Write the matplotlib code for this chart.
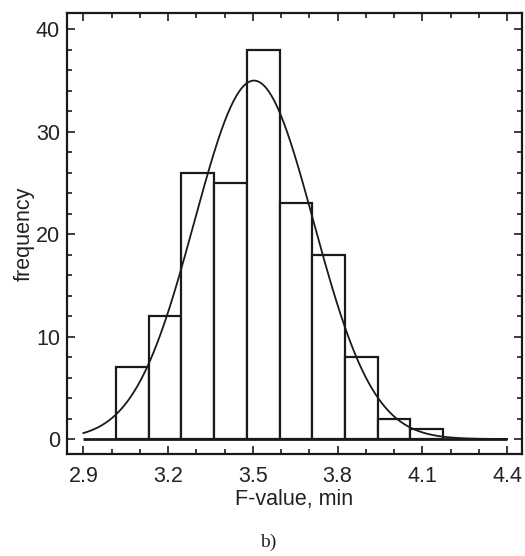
import matplotlib
matplotlib.use('Agg')
import matplotlib.pyplot as plt
import numpy as np
from matplotlib.ticker import MultipleLocator

# histogram (10 bins between min and max of sample)
bin_start = 3.016
bin_width = 0.1157
counts = [7, 12, 26, 25, 38, 23, 18, 8, 2, 1]

# normal fit parameters
mu = 3.504
sigma = 0.211
fit_range = (2.9, 4.4)

xticks = [2.9, 3.2, 3.5, 3.8, 4.1, 4.4]
yticks = [0, 10, 20, 30, 40]

plt.rcParams['font.family'] = ['Liberation Sans', 'DejaVu Sans']

fig = plt.figure(figsize=(5.25, 5.56), dpi=100)
ax = fig.add_axes([0.1276, 0.1835, 0.8667, 0.7931])

edges = bin_start + bin_width * np.arange(len(counts))
ax.bar(edges, counts, width=bin_width, align='edge', facecolor='white',
       edgecolor='#1a1a1a', linewidth=1.6, zorder=2)

# baseline
ax.plot(fit_range, [0, 0], color='#1a1a1a', lw=2.0, zorder=3, solid_capstyle='butt')

xs = np.linspace(fit_range[0], fit_range[1], 400)
n = sum(counts)
ys = n * bin_width / (sigma * np.sqrt(2 * np.pi)) * np.exp(-0.5 * ((xs - mu) / sigma) ** 2)
ax.plot(xs, ys, color='#1a1a1a', lw=1.3, zorder=4)

ax.set_xlim(2.842, 4.453)
ax.set_ylim(-1.46, 41.6)
ax.set_xticks(xticks)
ax.set_xticklabels([f'{t:.1f}' for t in xticks])
ax.set_yticks(yticks)
ax.xaxis.set_minor_locator(MultipleLocator(0.1))
ax.yaxis.set_minor_locator(MultipleLocator(2))
ax.tick_params(which='both', direction='in', top=True, right=True, width=1.2,
               color='#1a1a1a', labelsize=15.5, labelcolor='#222222')
ax.tick_params(which='major', length=6)
ax.tick_params(which='minor', length=3.5)
ax.tick_params(axis='x', pad=9)
ax.tick_params(axis='y', pad=5)

for s in ax.spines.values():
    s.set_linewidth(1.6)
    s.set_color('#1a1a1a')

ax.set_xlabel('F-value, min', fontsize=15.5, color='#222222', labelpad=1)
ax.set_ylabel('frequency', fontsize=15.5, color='#222222', labelpad=1)

fig.text(0.51, 0.024, 'b)', fontsize=14, family=['Liberation Serif'],
         ha='center', va='center', color='#222222')

fig.savefig('out.png', dpi=100)
